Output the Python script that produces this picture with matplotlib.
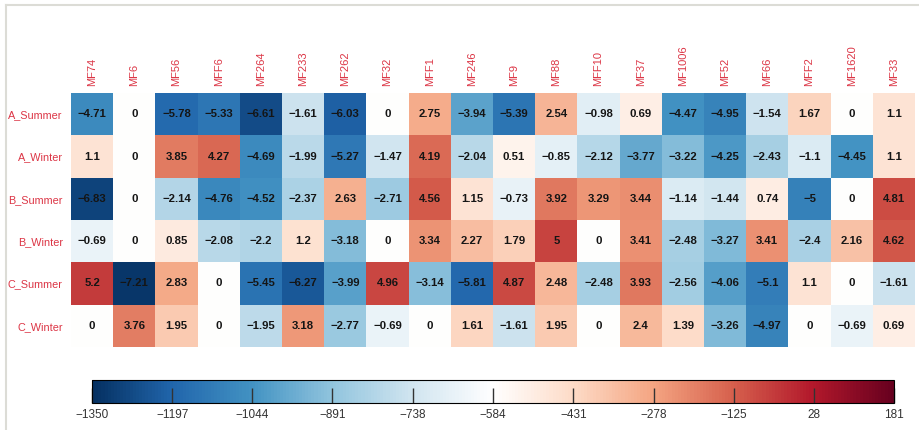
import numpy as np
import matplotlib
matplotlib.use('Agg')
import matplotlib.pyplot as plt
from matplotlib.colors import Normalize, LinearSegmentedColormap
from matplotlib.lines import Line2D
import matplotlib.cm as cm

plt.rcParams['font.family'] = ['Liberation Sans', 'DejaVu Sans']

# ---- data ----------------------------------------------------------------------
rows = ['A_Summer', 'A_Winter', 'B_Summer', 'B_Winter', 'C_Summer', 'C_Winter']
cols = ['MF74', 'MF6', 'MF56', 'MFF6', 'MF264', 'MF233', 'MF262', 'MF32', 'MFF1', 'MF246',
        'MF9', 'MF88', 'MFF10', 'MF37', 'MF1006', 'MF52', 'MF66', 'MFF2', 'MF1620', 'MF33']

a_summer = [-4.71, 0, -5.78, -5.33, -6.61, -1.61, -6.03, 0, 2.75, -3.94,
            -5.39, 2.54, -0.98, 0.69, -4.47, -4.95, -1.54, 1.67, 0, 1.1]
a_winter = [1.1, 0, 3.85, 4.27, -4.69, -1.99, -5.27, -1.47, 4.19, -2.04,
            0.51, -0.85, -2.12, -3.77, -3.22, -4.25, -2.43, -1.1, -4.45, 1.1]
b_summer = [-6.83, 0, -2.14, -4.76, -4.52, -2.37, 2.63, -2.71, 4.56, 1.15,
            -0.73, 3.92, 3.29, 3.44, -1.14, -1.44, 0.74, -5, 0, 4.81]
b_winter = [-0.69, 0, 0.85, -2.08, -2.2, 1.2, -3.18, 0, 3.34, 2.27,
            1.79, 5, 0, 3.41, -2.48, -3.27, 3.41, -2.4, 2.16, 4.62]
c_summer = [5.2, -7.21, 2.83, 0, -5.45, -6.27, -3.99, 4.96, -3.14, -5.81,
            4.87, 2.48, -2.48, 3.93, -2.56, -4.06, -5.1, 1.1, 0, -1.61]
c_winter = [0, 3.76, 1.95, 0, -1.95, 3.18, -2.77, -0.69, 0, 1.61,
            -1.61, 1.95, 0, 2.4, 1.39, -3.26, -4.97, 0, -0.69, 0.69]

cbar_ticks = [-1350, -1197, -1044, -891, -738, -584, -431, -278, -125, 28, 181]

vals = np.array([a_summer, a_winter, b_summer, b_winter, c_summer, c_winter])

# ---- figure --------------------------------------------------------------------
W, H = 919, 430
fig = plt.figure(figsize=(W / 100, H / 100), dpi=100)

def box(x0, y0, x1, y1):
    # pixel box (top-left origin) -> figure fraction rect
    return [x0 / W, 1 - y1 / H, (x1 - x0) / W, (y1 - y0) / H]

# light frame lines (top and left)
fig.add_artist(Line2D([6 / W, 1], [1 - 5 / H] * 2, color='#dcdcd6', lw=1.5))
fig.add_artist(Line2D([6 / W] * 2, [0, 1 - 5 / H], color='#dcdcd6', lw=1.5))

# RdBu reversed, but with a pure white centre
cmap = LinearSegmentedColormap.from_list('rdbu_w', [
    '#053061', '#2166ac', '#4393c3', '#92c5de', '#d1e5f0', '#ffffff',
    '#fddbc7', '#f4a582', '#d6604d', '#b2182b', '#67001f'])

ax = fig.add_axes(box(71, 93, 915, 347))
lim = 7.4
ax.imshow(vals, cmap=cmap, vmin=-lim, vmax=lim, aspect='auto', interpolation='nearest')
for i in range(vals.shape[0]):
    for j in range(vals.shape[1]):
        s = ('%g' % vals[i, j]).replace('-', '\u2212')
        ax.text(j, i, s, ha='center', va='center', fontsize=8.2, fontweight='bold',
                color='#151515')

red = '#dc3545'
ax.xaxis.tick_top()
ax.set_xticks(range(len(cols)))
ax.set_xticklabels(cols, rotation=90, fontsize=8, color=red)
ax.set_yticks(range(len(rows)))
ax.set_yticklabels(rows, fontsize=7.8, color=red)
ax.tick_params(length=0, pad=5)
ax.tick_params(axis='y', pad=6)
for sp in ax.spines.values():
    sp.set_visible(False)

# ---- colour bar ----------------------------------------------------------------
cax = fig.add_axes(box(92, 380, 894, 403))
sm = cm.ScalarMappable(norm=Normalize(cbar_ticks[0], cbar_ticks[-1]), cmap=cmap)
cb = fig.colorbar(sm, cax=cax, orientation='horizontal')
cb.set_ticks(cbar_ticks)
cb.set_ticklabels([('%d' % t).replace('-', '\u2212') for t in cbar_ticks])
cax.tick_params(direction='in', length=11, width=1, color='#333333',
                labelsize=8.5, labelcolor='#333333', pad=4)
cb.outline.set_linewidth(0.8)

fig.savefig('out.png', dpi=100)
